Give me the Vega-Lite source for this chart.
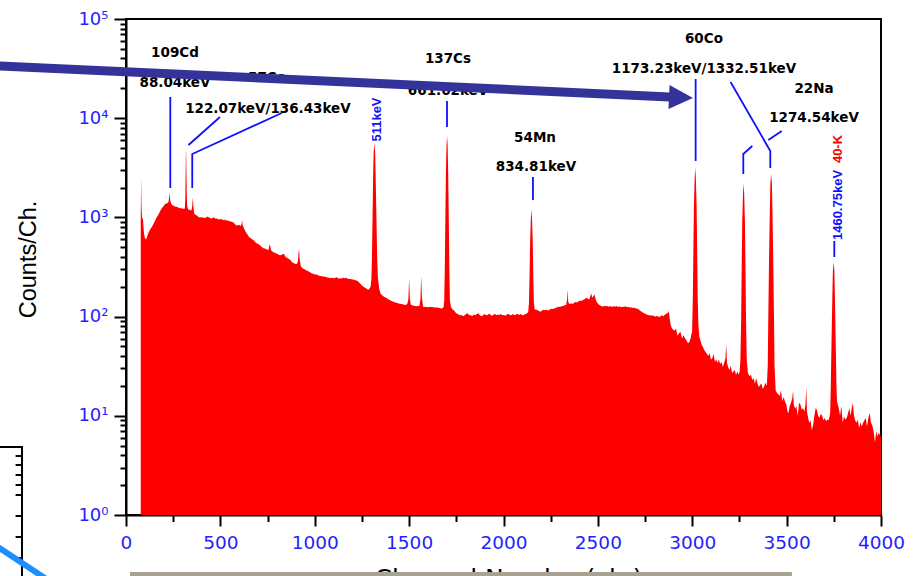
{
 "$schema": "https://vega.github.io/schema/vega-lite/v6.json",
 "width": 755,
 "height": 496,
 "autosize": {"type": "none"},
 "padding": {"left": 126, "top": 19, "right": 34, "bottom": 61},
 "background": "#ffffff",
 "config": {"view": {"stroke": "#000000", "strokeWidth": 2}},
 "datasets": {
  "spec": [
   {"x":78,"y":900},{"x":80,"y":2500},{"x":82,"y":1300},{"x":85,"y":1000},{"x":90,"y":950},{"x":95,"y":700},{"x":100,"y":620},{"x":106,"y":600},{"x":112,"y":640},{"x":117,"y":690},{"x":124,"y":730},{"x":130,"y":770},{"x":137,"y":800},{"x":145,"y":860},{"x":152,"y":910},{"x":158,"y":960},{"x":163,"y":1010},{"x":170,"y":1050},{"x":176,"y":1110},{"x":182,"y":1170},{"x":189,"y":1230},{"x":195,"y":1270},{"x":202,"y":1320},{"x":208,"y":1370},{"x":214,"y":1380},{"x":220,"y":1400},{"x":225,"y":1430},{"x":228,"y":1550},{"x":231,"y":1780},{"x":234,"y":1500},{"x":238,"y":1400},{"x":243,"y":1350},{"x":248,"y":1320},{"x":254,"y":1300},{"x":260,"y":1290},{"x":266,"y":1270},{"x":272,"y":1280},{"x":278,"y":1250},{"x":284,"y":1240},{"x":290,"y":1250},{"x":296,"y":1220},{"x":302,"y":1230},{"x":308,"y":1210},{"x":312,"y":1250},{"x":314,"y":1500},{"x":316,"y":2900},{"x":317,"y":4170},{"x":318,"y":4900},{"x":319,"y":4170},{"x":320,"y":2900},{"x":322,"y":1700},{"x":324,"y":1300},{"x":328,"y":1220},{"x":333,"y":1190},{"x":338,"y":1200},{"x":343,"y":1170},{"x":348,"y":1200},{"x":351,"y":1300},{"x":353,"y":1500},{"x":354,"y":1580},{"x":355,"y":1500},{"x":357,"y":1300},{"x":361,"y":1100},{"x":366,"y":1070},{"x":372,"y":1050},{"x":378,"y":1040},{"x":384,"y":1010},{"x":390,"y":1000},{"x":397,"y":995},{"x":404,"y":1010},{"x":411,"y":985},{"x":418,"y":990},{"x":425,"y":1000},{"x":432,"y":1020},{"x":439,"y":995},{"x":446,"y":985},{"x":453,"y":975},{"x":460,"y":990},{"x":467,"y":1000},{"x":474,"y":970},{"x":481,"y":975},{"x":488,"y":960},{"x":495,"y":955},{"x":502,"y":965},{"x":509,"y":950},{"x":516,"y":940},{"x":523,"y":945},{"x":530,"y":930},{"x":537,"y":935},{"x":544,"y":920},{"x":551,"y":915},{"x":558,"y":905},{"x":565,"y":900},{"x":572,"y":880},{"x":579,"y":850},{"x":586,"y":830},{"x":593,"y":835},{"x":600,"y":845},{"x":607,"y":820},{"x":612,"y":850},{"x":615,"y":940},{"x":618,"y":840},{"x":623,"y":790},{"x":630,"y":740},{"x":637,"y":700},{"x":644,"y":670},{"x":651,"y":640},{"x":658,"y":620},{"x":665,"y":610},{"x":672,"y":595},{"x":679,"y":580},{"x":686,"y":560},{"x":693,"y":550},{"x":700,"y":540},{"x":707,"y":530},{"x":714,"y":515},{"x":721,"y":500},{"x":728,"y":490},{"x":735,"y":485},{"x":742,"y":480},{"x":749,"y":470},{"x":756,"y":475},{"x":760,"y":530},{"x":764,"y":520},{"x":768,"y":470},{"x":774,"y":455},{"x":781,"y":445},{"x":788,"y":440},{"x":795,"y":435},{"x":802,"y":428},{"x":809,"y":420},{"x":816,"y":415},{"x":823,"y":418},{"x":830,"y":425},{"x":837,"y":430},{"x":843,"y":405},{"x":849,"y":395},{"x":856,"y":390},{"x":863,"y":380},{"x":870,"y":375},{"x":877,"y":360},{"x":884,"y":350},{"x":891,"y":345},{"x":898,"y":340},{"x":905,"y":340},{"x":911,"y":360},{"x":914,"y":440},{"x":917,"y":480},{"x":920,"y":380},{"x":925,"y":330},{"x":931,"y":312},{"x":938,"y":305},{"x":945,"y":300},{"x":952,"y":295},{"x":960,"y":290},{"x":968,"y":285},{"x":975,"y":280},{"x":983,"y":274},{"x":990,"y":270},{"x":998,"y":268},{"x":1006,"y":266},{"x":1014,"y":264},{"x":1022,"y":258},{"x":1030,"y":256},{"x":1038,"y":255},{"x":1046,"y":254},{"x":1054,"y":252},{"x":1062,"y":250},{"x":1070,"y":247},{"x":1078,"y":246},{"x":1086,"y":244},{"x":1094,"y":246},{"x":1102,"y":243},{"x":1110,"y":247},{"x":1118,"y":249},{"x":1126,"y":241},{"x":1134,"y":244},{"x":1142,"y":242},{"x":1150,"y":247},{"x":1158,"y":243},{"x":1166,"y":246},{"x":1174,"y":241},{"x":1182,"y":240},{"x":1190,"y":239},{"x":1198,"y":237},{"x":1206,"y":236},{"x":1214,"y":233},{"x":1222,"y":231},{"x":1230,"y":226},{"x":1238,"y":218},{"x":1246,"y":210},{"x":1254,"y":203},{"x":1262,"y":198},{"x":1270,"y":194},{"x":1278,"y":189},{"x":1284,"y":186},{"x":1290,"y":192},{"x":1296,"y":200},{"x":1300,"y":240},{"x":1303,"y":376},{"x":1306,"y":946},{"x":1309,"y":2425},{"x":1312,"y":4520},{"x":1316,"y":5600},{"x":1320,"y":4520},{"x":1323,"y":2425},{"x":1327,"y":946},{"x":1331,"y":376},{"x":1335,"y":240},{"x":1342,"y":190},{"x":1349,"y":170},{"x":1356,"y":165},{"x":1363,"y":160},{"x":1370,"y":158},{"x":1378,"y":155},{"x":1386,"y":151},{"x":1394,"y":148},{"x":1402,"y":145},{"x":1410,"y":143},{"x":1418,"y":141},{"x":1426,"y":139},{"x":1434,"y":138},{"x":1442,"y":136},{"x":1450,"y":135},{"x":1458,"y":134},{"x":1466,"y":133},{"x":1474,"y":132},{"x":1482,"y":131},{"x":1490,"y":134},{"x":1496,"y":150},{"x":1500,"y":245},{"x":1504,"y":150},{"x":1509,"y":132},{"x":1516,"y":130},{"x":1523,"y":129},{"x":1530,"y":128},{"x":1538,"y":127},{"x":1546,"y":128},{"x":1554,"y":127},{"x":1560,"y":150},{"x":1564,"y":257},{"x":1568,"y":155},{"x":1574,"y":126},{"x":1582,"y":125},{"x":1590,"y":126},{"x":1598,"y":124},{"x":1606,"y":125},{"x":1614,"y":126},{"x":1622,"y":124},{"x":1630,"y":125},{"x":1638,"y":123},{"x":1646,"y":124},{"x":1654,"y":123},{"x":1662,"y":122},{"x":1670,"y":121},{"x":1678,"y":122},{"x":1683,"y":125},{"x":1686,"y":146},{"x":1689,"y":308},{"x":1692,"y":995},{"x":1695,"y":2780},{"x":1698,"y":5300},{"x":1701,"y":6600},{"x":1704,"y":5300},{"x":1707,"y":2780},{"x":1710,"y":995},{"x":1713,"y":308},{"x":1716,"y":146},{"x":1722,"y":125},{"x":1730,"y":118},{"x":1738,"y":115},{"x":1746,"y":110},{"x":1754,"y":107},{"x":1762,"y":105},{"x":1770,"y":103},{"x":1778,"y":104},{"x":1786,"y":101},{"x":1794,"y":103},{"x":1802,"y":106},{"x":1810,"y":108},{"x":1818,"y":103},{"x":1826,"y":104},{"x":1834,"y":101},{"x":1842,"y":105},{"x":1850,"y":103},{"x":1858,"y":106},{"x":1866,"y":108},{"x":1874,"y":104},{"x":1882,"y":101},{"x":1890,"y":102},{"x":1898,"y":106},{"x":1906,"y":104},{"x":1914,"y":103},{"x":1922,"y":107},{"x":1930,"y":105},{"x":1938,"y":102},{"x":1946,"y":104},{"x":1954,"y":107},{"x":1962,"y":103},{"x":1970,"y":105},{"x":1978,"y":104},{"x":1986,"y":106},{"x":1994,"y":103},{"x":2002,"y":104},{"x":2010,"y":102},{"x":2018,"y":105},{"x":2026,"y":107},{"x":2034,"y":103},{"x":2042,"y":104},{"x":2050,"y":106},{"x":2058,"y":103},{"x":2066,"y":105},{"x":2074,"y":107},{"x":2082,"y":104},{"x":2090,"y":106},{"x":2098,"y":104},{"x":2106,"y":103},{"x":2114,"y":106},{"x":2122,"y":107},{"x":2128,"y":110},{"x":2131,"y":111},{"x":2135,"y":139},{"x":2138,"y":255},{"x":2141,"y":555},{"x":2145,"y":980},{"x":2148,"y":1200},{"x":2151,"y":980},{"x":2155,"y":555},{"x":2158,"y":255},{"x":2161,"y":139},{"x":2165,"y":118},{"x":2173,"y":118},{"x":2180,"y":116},{"x":2188,"y":114},{"x":2196,"y":112},{"x":2204,"y":115},{"x":2212,"y":117},{"x":2220,"y":116},{"x":2228,"y":118},{"x":2236,"y":115},{"x":2244,"y":117},{"x":2252,"y":120},{"x":2260,"y":119},{"x":2268,"y":121},{"x":2276,"y":122},{"x":2284,"y":124},{"x":2292,"y":126},{"x":2300,"y":125},{"x":2308,"y":128},{"x":2316,"y":127},{"x":2324,"y":131},{"x":2332,"y":130},{"x":2337,"y":150},{"x":2340,"y":186},{"x":2343,"y":140},{"x":2350,"y":133},{"x":2358,"y":136},{"x":2366,"y":134},{"x":2374,"y":138},{"x":2382,"y":140},{"x":2390,"y":139},{"x":2398,"y":143},{"x":2406,"y":145},{"x":2414,"y":144},{"x":2422,"y":148},{"x":2430,"y":150},{"x":2438,"y":155},{"x":2446,"y":152},{"x":2454,"y":149},{"x":2460,"y":160},{"x":2465,"y":172},{"x":2470,"y":155},{"x":2476,"y":160},{"x":2482,"y":168},{"x":2488,"y":150},{"x":2494,"y":140},{"x":2502,"y":134},{"x":2510,"y":130},{"x":2518,"y":128},{"x":2526,"y":126},{"x":2534,"y":129},{"x":2542,"y":127},{"x":2550,"y":128},{"x":2558,"y":126},{"x":2566,"y":128},{"x":2574,"y":125},{"x":2582,"y":127},{"x":2590,"y":126},{"x":2598,"y":128},{"x":2606,"y":125},{"x":2614,"y":127},{"x":2622,"y":124},{"x":2630,"y":126},{"x":2638,"y":125},{"x":2646,"y":127},{"x":2654,"y":124},{"x":2662,"y":126},{"x":2670,"y":123},{"x":2678,"y":124},{"x":2686,"y":122},{"x":2694,"y":123},{"x":2702,"y":121},{"x":2710,"y":120},{"x":2718,"y":117},{"x":2726,"y":114},{"x":2734,"y":111},{"x":2742,"y":109},{"x":2750,"y":107},{"x":2758,"y":105},{"x":2766,"y":104},{"x":2774,"y":103},{"x":2782,"y":102},{"x":2790,"y":103},{"x":2798,"y":101},{"x":2806,"y":100},{"x":2814,"y":102},{"x":2822,"y":99},{"x":2830,"y":100},{"x":2838,"y":103},{"x":2846,"y":101},{"x":2854,"y":104},{"x":2862,"y":107},{"x":2870,"y":109},{"x":2876,"y":113},{"x":2881,"y":95},{"x":2886,"y":82},{"x":2891,"y":77},{"x":2898,"y":74},{"x":2906,"y":72},{"x":2914,"y":76},{"x":2922,"y":64},{"x":2930,"y":68},{"x":2938,"y":70},{"x":2946,"y":60},{"x":2954,"y":65},{"x":2962,"y":60},{"x":2970,"y":57},{"x":2978,"y":54},{"x":2986,"y":56},{"x":2991,"y":60},{"x":2995,"y":66},{"x":2999,"y":70},{"x":3003,"y":150},{"x":3006,"y":477},{"x":3009,"y":1330},{"x":3013,"y":2530},{"x":3016,"y":3150},{"x":3019,"y":2530},{"x":3023,"y":1330},{"x":3026,"y":477},{"x":3029,"y":150},{"x":3033,"y":80},{"x":3038,"y":62},{"x":3044,"y":57},{"x":3050,"y":52},{"x":3057,"y":49},{"x":3064,"y":46},{"x":3071,"y":44},{"x":3078,"y":42},{"x":3085,"y":40},{"x":3092,"y":43},{"x":3099,"y":37},{"x":3106,"y":38},{"x":3113,"y":42},{"x":3120,"y":35},{"x":3127,"y":37},{"x":3134,"y":34},{"x":3141,"y":37},{"x":3148,"y":33},{"x":3155,"y":35},{"x":3162,"y":31},{"x":3169,"y":34},{"x":3176,"y":38},{"x":3180,"y":53},{"x":3184,"y":34},{"x":3190,"y":31},{"x":3197,"y":29},{"x":3204,"y":32},{"x":3211,"y":27},{"x":3218,"y":28},{"x":3225,"y":29},{"x":3232,"y":26},{"x":3239,"y":28},{"x":3246,"y":26},{"x":3251,"y":28},{"x":3255,"y":36},{"x":3259,"y":90},{"x":3262,"y":320},{"x":3265,"y":918},{"x":3269,"y":1765},{"x":3272,"y":2200},{"x":3275,"y":1765},{"x":3279,"y":918},{"x":3282,"y":320},{"x":3285,"y":90},{"x":3289,"y":36},{"x":3295,"y":27},{"x":3304,"y":25},{"x":3311,"y":26},{"x":3318,"y":23},{"x":3325,"y":24},{"x":3332,"y":21},{"x":3339,"y":24},{"x":3346,"y":21},{"x":3353,"y":19.5},{"x":3360,"y":20.5},{"x":3367,"y":21},{"x":3374,"y":18.5},{"x":3381,"y":20},{"x":3388,"y":21.5},{"x":3395,"y":20},{"x":3400,"y":32},{"x":3403,"y":100},{"x":3407,"y":390},{"x":3411,"y":1140},{"x":3414,"y":2204},{"x":3418,"y":2750},{"x":3422,"y":2204},{"x":3425,"y":1140},{"x":3429,"y":390},{"x":3433,"y":100},{"x":3436,"y":32},{"x":3442,"y":18},{"x":3449,"y":17},{"x":3456,"y":16.5},{"x":3463,"y":15.8},{"x":3470,"y":18},{"x":3477,"y":14},{"x":3484,"y":15.5},{"x":3491,"y":14},{"x":3498,"y":13},{"x":3505,"y":11},{"x":3510,"y":10.7},{"x":3516,"y":12.5},{"x":3523,"y":13.5},{"x":3530,"y":15},{"x":3534,"y":18},{"x":3538,"y":13},{"x":3545,"y":11.8},{"x":3552,"y":12.5},{"x":3559,"y":10},{"x":3566,"y":13.5},{"x":3573,"y":13},{"x":3580,"y":11.5},{"x":3587,"y":12},{"x":3594,"y":11},{"x":3600,"y":13},{"x":3604,"y":19.5},{"x":3608,"y":11},{"x":3614,"y":9.5},{"x":3620,"y":8.5},{"x":3627,"y":9},{"x":3633,"y":7.2},{"x":3640,"y":8},{"x":3647,"y":10},{"x":3654,"y":12},{"x":3660,"y":11.5},{"x":3667,"y":10},{"x":3674,"y":9.5},{"x":3681,"y":10.5},{"x":3688,"y":10},{"x":3695,"y":9},{"x":3702,"y":9.5},{"x":3709,"y":8.8},{"x":3716,"y":9.2},{"x":3723,"y":9},{"x":3728,"y":10},{"x":3731,"y":11},{"x":3734,"y":20},{"x":3738,"y":57},{"x":3742,"y":151},{"x":3745,"y":286},{"x":3749,"y":355},{"x":3753,"y":286},{"x":3756,"y":151},{"x":3760,"y":57},{"x":3764,"y":20},{"x":3767,"y":14},{"x":3771,"y":13},{"x":3776,"y":12},{"x":3783,"y":10},{"x":3790,"y":12.5},{"x":3797,"y":8.5},{"x":3804,"y":9.8},{"x":3811,"y":9.2},{"x":3818,"y":9.5},{"x":3825,"y":10.5},{"x":3832,"y":12},{"x":3839,"y":10},{"x":3845,"y":12},{"x":3851,"y":13.5},{"x":3857,"y":10},{"x":3863,"y":9},{"x":3870,"y":8.5},{"x":3877,"y":9.2},{"x":3884,"y":7.5},{"x":3891,"y":8.6},{"x":3898,"y":7.8},{"x":3905,"y":8.5},{"x":3912,"y":9},{"x":3919,"y":9.5},{"x":3926,"y":7.8},{"x":3933,"y":9.5},{"x":3940,"y":10.7},{"x":3947,"y":8.5},{"x":3954,"y":8},{"x":3961,"y":7},{"x":3968,"y":5.4},{"x":3975,"y":7},{"x":3982,"y":6.2},{"x":3988,"y":6.8},{"x":3994,"y":6.4},{"x":4000,"y":6.2}
  ],
  "lead": [
   {"g":"A","o":1,"x":234.7,"y":16360},{"g":"A","o":2,"x":234.7,"y":1978},
   {"g":"B","o":1,"x":498,"y":10280},{"g":"B","o":2,"x":331,"y":5368},
   {"g":"C","o":1,"x":825,"y":11280},{"g":"C","o":2,"x":351,"y":4355},{"g":"C","o":3,"x":351,"y":1978},
   {"g":"D","o":1,"x":1700.7,"y":14910},{"g":"D","o":2,"x":1700.7,"y":8153},
   {"g":"E","o":1,"x":2156,"y":2555},{"g":"E","o":2,"x":2156,"y":1498},
   {"g":"F","o":1,"x":3018,"y":24850},{"g":"F","o":2,"x":3018,"y":3702},
   {"g":"G","o":1,"x":3203,"y":23170},{"g":"G","o":2,"x":3413.5,"y":4671},{"g":"G","o":3,"x":3413.5,"y":3148},
   {"g":"H1","o":1,"x":3474,"y":7430},{"g":"H1","o":2,"x":3403,"y":6029},
   {"g":"H2","o":1,"x":3318,"y":5246},{"g":"H2","o":2,"x":3270.5,"y":4355},{"g":"H2","o":3,"x":3270.5,"y":2738},
   {"g":"I","o":1,"x":3752.6,"y":578},{"g":"I","o":2,"x":3752.6,"y":399}
  ],
  "ann": [
   {"x":259.6,"y":45400,"t":"109Cd"},
   {"x":259.6,"y":22650,"t":"88.04keV"},
   {"x":747,"y":25400,"t":"57Co"},
   {"x":752,"y":12390,"t":"122.07keV/136.43keV"},
   {"x":1706,"y":39540,"t":"137Cs"},
   {"x":1706,"y":18800,"t":"661.62keV"},
   {"x":2167,"y":6385,"t":"54Mn"},
   {"x":2172,"y":3220,"t":"834.81keV"},
   {"x":3062,"y":62830,"t":"60Co"},
   {"x":3062,"y":31330,"t":"1173.23keV/1332.51keV"},
   {"x":3645,"y":19690,"t":"22Na"},
   {"x":3645,"y":10160,"t":"1274.54keV"}
  ],
  "rotblue": [
   {"x":1330,"y":9700,"t":"511keV"},
   {"x":3772,"y":1334,"t":"1460.75keV"}
  ],
  "rotred": [
   {"x":3772,"y":4892,"t":"40-K"}
  ],
  "arrow": [
   {"o":1,"x":-694,"y":33750},
   {"o":2,"x":2908.6,"y":16265}
  ],
  "head": [
   {"x":2940.4,"y":16170}
  ],
  "box": [
   {"g":"frame","o":1,"x":-694,"y":4.85},{"g":"frame","o":2,"x":-551,"y":4.85},{"g":"frame","o":3,"x":-551,"y":0.2212},
   {"g":"t1","o":1,"x":-585,"y":3.934},{"g":"t1","o":2,"x":-551,"y":3.934},
   {"g":"t2","o":1,"x":-585,"y":3.19},{"g":"t2","o":2,"x":-551,"y":3.19},
   {"g":"t3","o":1,"x":-585,"y":2.53},{"g":"t3","o":2,"x":-551,"y":2.53},
   {"g":"t4","o":1,"x":-585,"y":2.006},{"g":"t4","o":2,"x":-551,"y":2.006},
   {"g":"t5","o":1,"x":-585,"y":1.591},{"g":"t5","o":2,"x":-551,"y":1.591},
   {"g":"t6","o":1,"x":-585,"y":0.977},{"g":"t6","o":2,"x":-551,"y":0.977},
   {"g":"t7","o":1,"x":-585,"y":0.6},{"g":"t7","o":2,"x":-551,"y":0.6},
   {"g":"t8","o":1,"x":-585,"y":0.3685},{"g":"t8","o":2,"x":-551,"y":0.3685}
  ],
  "stripe": [
   {"o":1,"x":-720.6,"y":0.538},
   {"o":2,"x":-402.6,"y":0.2136}
  ],
  "band": [
   {"x":21.2,"x2":3528,"y":0.2663,"y2":0.2}
  ]
 },
 "encoding": {
  "x": {
   "field": "x",
   "type": "quantitative",
   "scale": {"domain": [0, 4000], "nice": false, "zero": false},
   "axis": {
    "values": [0,250,500,750,1000,1250,1500,1750,2000,2250,2500,2750,3000,3250,3500,3750,4000],
    "title": "Channel Number(ch.)",
    "titleFont": "DejaVu Sans",
    "titleFontSize": 25,
    "titleFontWeight": "normal",
    "titleColor": "#000000",
    "titleBaseline": "top",
    "titleAlign": "center",
    "titleX": 382,
    "titleY": 51,
    "labelExpr": "datum.value % 500 === 0 ? '' + datum.value : ''",
    "labelFont": "DejaVu Sans",
    "labelFontSize": 18.5,
    "labelColor": "#1f1fff",
    "labelPadding": 7,
    "labelFlush": false,
    "labelOverlap": false,
    "tickSize": {"condition": {"test": "datum.value % 500 === 0", "value": 11}, "value": 6.5},
    "tickWidth": 2,
    "tickColor": "#000000",
    "domainColor": "#000000",
    "domainWidth": 2,
    "grid": false
   }
  },
  "y": {
   "field": "y",
   "type": "quantitative",
   "scale": {"type": "log", "domain": [1, 100000], "nice": false},
   "axis": {
    "values": [1,2,3,4,5,6,7,8,9,10,20,30,40,50,60,70,80,90,100,200,300,400,500,600,700,800,900,1000,2000,3000,4000,5000,6000,7000,8000,9000,10000,20000,30000,40000,50000,60000,70000,80000,90000,100000],
    "title": "Counts/Ch.",
    "titleFont": "Liberation Sans",
    "titleFontSize": 23.5,
    "titleFontWeight": "normal",
    "titleColor": "#000000",
    "titleAngle": 270,
    "titleAlign": "center",
    "titleBaseline": "middle",
    "titleX": -98,
    "titleY": 240,
    "labelExpr": "datum.value == 1 ? '10⁰' : datum.value == 10 ? '10¹' : datum.value == 100 ? '10²' : datum.value == 1000 ? '10³' : datum.value == 10000 ? '10⁴' : datum.value == 100000 ? '10⁵' : ''",
    "labelFont": "DejaVu Sans",
    "labelFontSize": 18,
    "labelColor": "#1f1fff",
    "labelPadding": 6,
    "labelFlush": false,
    "labelOverlap": false,
    "labelBaseline": "middle",
    "tickSize": {"condition": {"test": "indexof([1,10,100,1000,10000,100000], datum.value) >= 0", "value": 12}, "value": 6},
    "tickWidth": 2,
    "tickColor": "#000000",
    "domainColor": "#000000",
    "domainWidth": 2,
    "grid": false
   }
  }
 },
 "layer": [
  {
   "data": {"name": "spec"},
   "mark": {"type": "area", "color": "#ff0000", "interpolate": "linear"},
   "encoding": {"y2": {"datum": 1}}
  },
  {
   "data": {"name": "lead"},
   "mark": {"type": "line", "color": "#1010ff", "strokeWidth": 1.8},
   "encoding": {"detail": {"field": "g"}, "order": {"field": "o"}}
  },
  {
   "data": {"name": "ann"},
   "mark": {"type": "text", "font": "DejaVu Sans", "fontWeight": "bold", "fontSize": 13.5, "align": "center", "baseline": "middle", "color": "#000000"},
   "encoding": {"text": {"field": "t"}}
  },
  {
   "data": {"name": "rotblue"},
   "mark": {"type": "text", "font": "Liberation Sans", "fontWeight": "bold", "fontSize": 13, "align": "center", "baseline": "middle", "angle": 270, "color": "#1010ff"},
   "encoding": {"text": {"field": "t"}}
  },
  {
   "data": {"name": "rotred"},
   "mark": {"type": "text", "font": "Liberation Sans", "fontWeight": "bold", "fontSize": 13, "align": "center", "baseline": "middle", "angle": 270, "color": "#ff0000"},
   "encoding": {"text": {"field": "t"}}
  },
  {
   "data": {"name": "arrow"},
   "mark": {"type": "line", "color": "#333399", "strokeWidth": 9, "strokeCap": "butt"},
   "encoding": {"order": {"field": "o"}}
  },
  {
   "data": {"name": "head"},
   "mark": {"type": "point", "shape": "M-1,-1L1,0L-1,1Z", "filled": true, "size": 576, "angle": 2.65, "color": "#333399", "opacity": 1, "strokeWidth": 0}
  },
  {
   "data": {"name": "box"},
   "mark": {"type": "line", "color": "#000000", "strokeWidth": 2},
   "encoding": {"detail": {"field": "g"}, "order": {"field": "o"}}
  },
  {
   "data": {"name": "stripe"},
   "mark": {"type": "line", "color": "#1e8fff", "strokeWidth": 6, "strokeCap": "butt"},
   "encoding": {"order": {"field": "o"}}
  },
  {
   "data": {"name": "band"},
   "mark": {"type": "rect", "color": "#a8a293"},
   "encoding": {"x2": {"field": "x2"}, "y2": {"field": "y2"}}
  }
 ]
}
